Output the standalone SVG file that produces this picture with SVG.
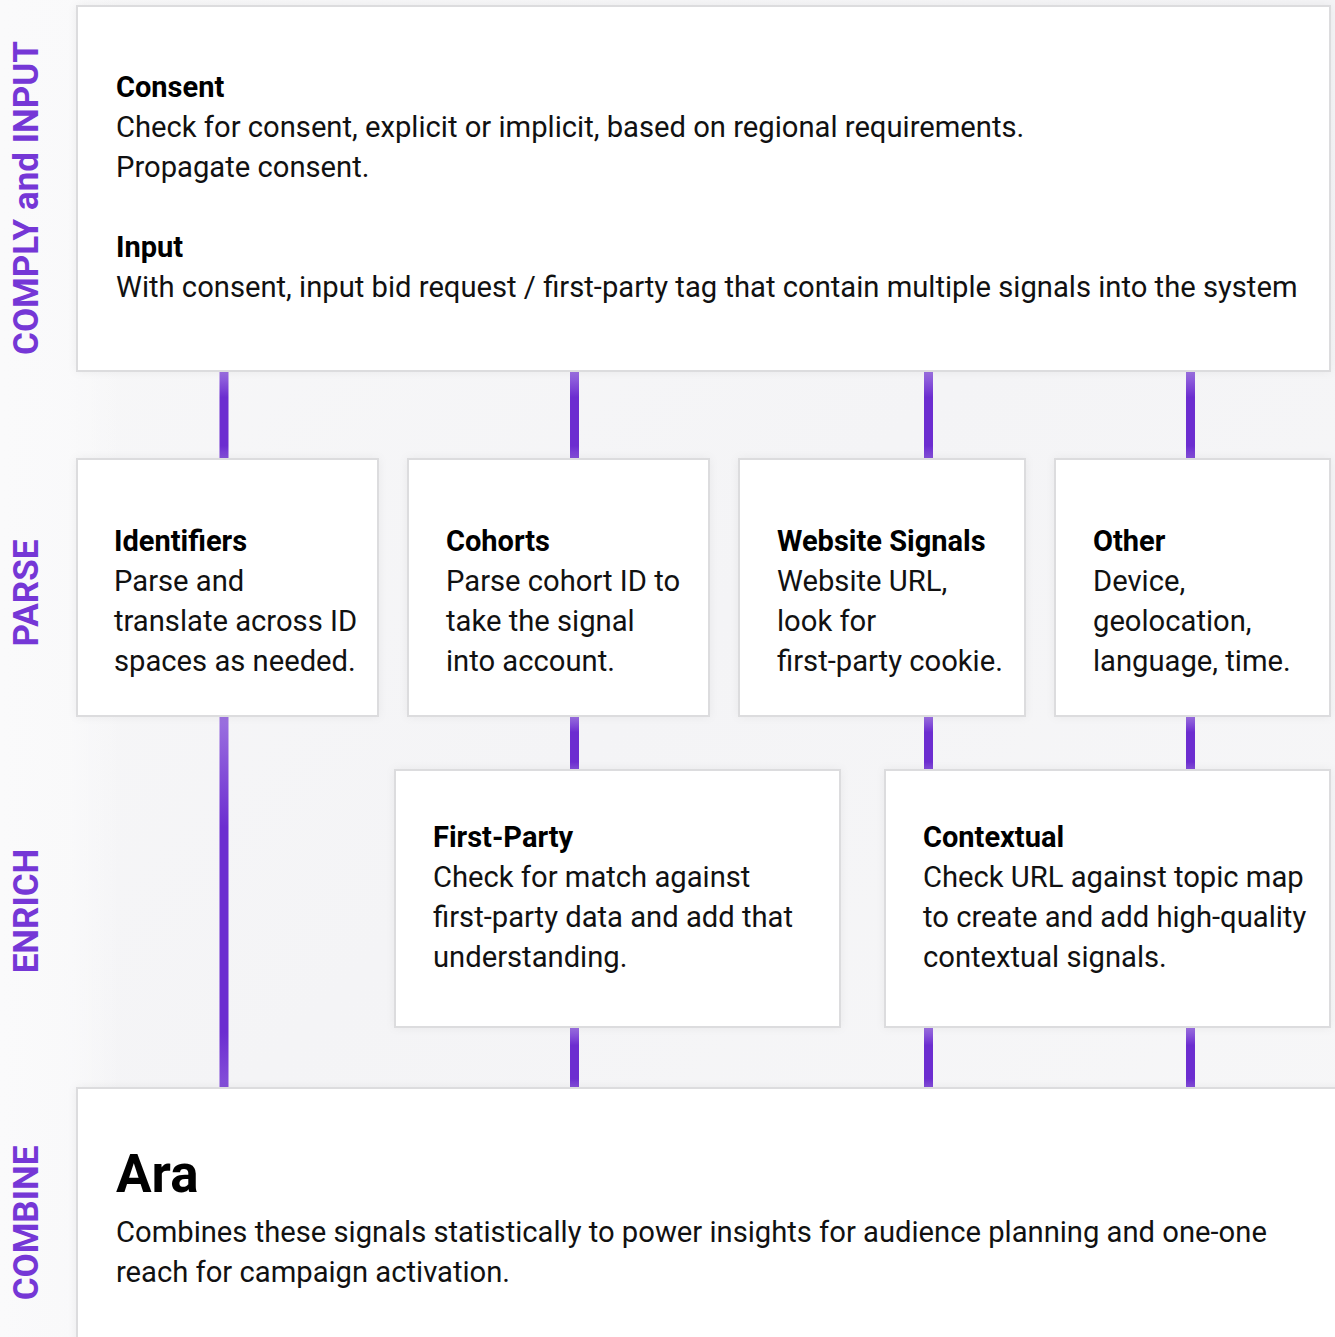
<svg xmlns="http://www.w3.org/2000/svg" width="1335" height="1337" viewBox="0 0 1335 1337">
<style>
.box{fill:#ffffff;stroke:#dcdcde;stroke-width:2;filter:url(#sh)}
.h{font-family:Roboto,"Liberation Sans",sans-serif;font-weight:700;font-size:29px;fill:#000}
.t{font-family:Roboto,"Liberation Sans",sans-serif;font-weight:400;font-size:29.2px;fill:#111}
.side{font-family:Roboto,"Liberation Sans",sans-serif;font-weight:700;font-size:35px;fill:#7537d6}
.c{fill:url(#cg)}
</style>
<defs>
<linearGradient id="bg" x1="0" y1="0" x2="1" y2="1">
<stop offset="0" stop-color="#f8f8f9"/>
<stop offset="0.5" stop-color="#f4f4f6"/>
<stop offset="1" stop-color="#f7f7f8"/>
</linearGradient>
<linearGradient id="lf" x1="0" y1="0" x2="1" y2="0">
<stop offset="0" stop-color="#fafafb" stop-opacity="1"/>
<stop offset="0.6" stop-color="#fafafb" stop-opacity="0.8"/>
<stop offset="1" stop-color="#fafafb" stop-opacity="0"/>
</linearGradient>
<linearGradient id="cg" x1="0" y1="0" x2="0" y2="1">
<stop offset="0" stop-color="#9c72e0"/>
<stop offset="0.3" stop-color="#6c2dd0"/>
<stop offset="0.85" stop-color="#6c2dd0"/>
<stop offset="1" stop-color="#8551d9"/>
</linearGradient>
<filter id="sh" x="-5%" y="-5%" width="110%" height="110%">
<feDropShadow dx="0" dy="0" stdDeviation="4" flood-color="#000" flood-opacity="0.05"/>
</filter>
</defs>
<rect x="0" y="0" width="1335" height="1337" fill="url(#bg)"/>
<rect x="0" y="0" width="120" height="1337" fill="url(#lf)"/>

<g id="labels">
<text class="side" transform="translate(38,198) rotate(-90)" text-anchor="middle">COMPLY and INPUT</text>
<text class="side" transform="translate(38,593) rotate(-90)" text-anchor="middle">PARSE</text>
<text class="side" transform="translate(38,911) rotate(-90)" text-anchor="middle">ENRICH</text>
<text class="side" transform="translate(38,1223) rotate(-90)" text-anchor="middle">COMBINE</text>
</g>

<g id="connectors">
<rect class="c" x="219.5" y="371" width="9" height="88"/>
<rect class="c" x="570" y="371" width="9" height="88"/>
<rect class="c" x="924" y="371" width="9" height="88"/>
<rect class="c" x="1186" y="371" width="9" height="88"/>
<rect class="c" x="219.5" y="716" width="9" height="372"/>
<rect class="c" x="570" y="716" width="9" height="54"/>
<rect class="c" x="924" y="716" width="9" height="54"/>
<rect class="c" x="1186" y="716" width="9" height="54"/>
<rect class="c" x="570" y="1027" width="9" height="61"/>
<rect class="c" x="924" y="1027" width="9" height="61"/>
<rect class="c" x="1186" y="1027" width="9" height="61"/>
</g>

<g id="comply">
<rect class="box" x="77" y="6" width="1253" height="365"/>
<text class="h" x="116" y="97">Consent</text>
<text class="t" x="116" y="137">Check for consent, explicit or implicit, based on regional requirements.</text>
<text class="t" x="116" y="177">Propagate consent.</text>
<text class="h" x="116" y="257">Input</text>
<text class="t" x="116" y="297">With consent, input bid request / first-party tag that contain multiple signals into the system</text>
</g>

<g id="identifiers">
<rect class="box" x="77" y="459" width="301" height="257"/>
<text class="h" x="114" y="551">Identifiers</text>
<text class="t" x="114" y="591">Parse and</text>
<text class="t" x="114" y="631">translate across ID</text>
<text class="t" x="114" y="671">spaces as needed.</text>
</g>

<g id="cohorts">
<rect class="box" x="408" y="459" width="301" height="257"/>
<text class="h" x="446" y="551">Cohorts</text>
<text class="t" x="446" y="591">Parse cohort ID to</text>
<text class="t" x="446" y="631">take the signal</text>
<text class="t" x="446" y="671">into account.</text>
</g>

<g id="website">
<rect class="box" x="739" y="459" width="286" height="257"/>
<text class="h" x="777" y="551">Website Signals</text>
<text class="t" x="777" y="591">Website URL,</text>
<text class="t" x="777" y="631">look for</text>
<text class="t" x="777" y="671">first-party cookie.</text>
</g>

<g id="other">
<rect class="box" x="1055" y="459" width="275" height="257"/>
<text class="h" x="1093" y="551">Other</text>
<text class="t" x="1093" y="591">Device,</text>
<text class="t" x="1093" y="631">geolocation,</text>
<text class="t" x="1093" y="671">language, time.</text>
</g>

<g id="firstparty">
<rect class="box" x="395" y="770" width="445" height="257"/>
<text class="h" x="433" y="847">First-Party</text>
<text class="t" x="433" y="887">Check for match against</text>
<text class="t" x="433" y="927">first-party data and add that</text>
<text class="t" x="433" y="967">understanding.</text>
</g>

<g id="contextual">
<rect class="box" x="885" y="770" width="445" height="257"/>
<text class="h" x="923" y="847">Contextual</text>
<text class="t" x="923" y="887">Check URL against topic map</text>
<text class="t" x="923" y="927">to create and add high-quality</text>
<text class="t" x="923" y="967">contextual signals.</text>
</g>

<g id="ara">
<rect class="box" x="77" y="1088" width="1270" height="260"/>
<text class="h" x="116" y="1192" style="font-size:53px">Ara</text>
<text class="t" x="116" y="1242">Combines these signals statistically to power insights for audience planning and one-one</text>
<text class="t" x="116" y="1282">reach for campaign activation.</text>
</g>
</svg>
